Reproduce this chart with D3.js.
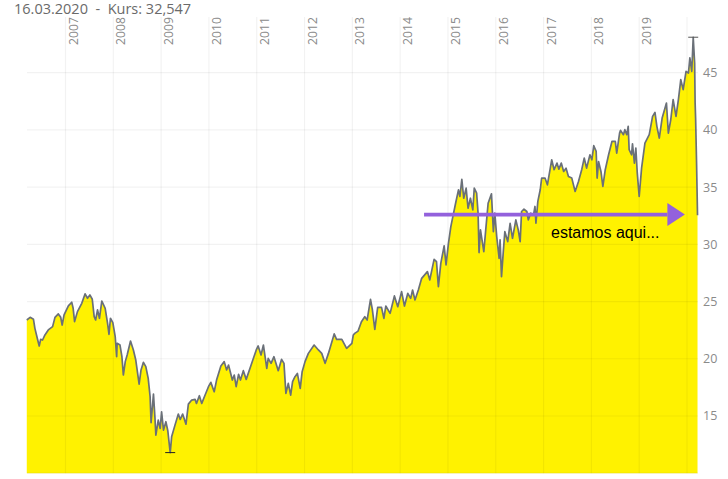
<!DOCTYPE html>
<html><head><meta charset="utf-8">
<script src="https://cdnjs.cloudflare.com/ajax/libs/d3/7.8.5/d3.min.js"></script>
<style>html,body{margin:0;padding:0;background:#fff;overflow:hidden}svg{display:block}</style>
</head><body><svg id="c" width="728" height="479"></svg>
<script>
const headerText = "16.03.2020  -  Kurs: 32,547";
const noteText = "estamos aqui...";
const yearTicks = [2007,2008,2009,2010,2011,2012,2013,2014,2015,2016,2017,2018,2019,2020];
const yearLabels = [2007,2008,2009,2010,2011,2012,2013,2014,2015,2016,2017,2018,2019];
const priceTicks = [15,20,25,30,35,40,45];
const currentPrice = 32.6;
const arrowFrom = 2014.5, arrowTo = 2019.59;
const dates = [2006.19,2006.26,2006.33,2006.36,2006.41,2006.45,2006.48,2006.52,2006.57,2006.64,2006.73,2006.78,2006.85,2006.90,2006.93,2006.97,2007.06,2007.13,2007.16,2007.19,2007.25,2007.34,2007.41,2007.46,2007.51,2007.56,2007.60,2007.63,2007.67,2007.71,2007.76,2007.83,2007.88,2007.91,2007.94,2007.99,2008.04,2008.07,2008.08,2008.14,2008.18,2008.21,2008.25,2008.29,2008.36,2008.42,2008.47,2008.54,2008.58,2008.63,2008.68,2008.73,2008.77,2008.79,2008.84,2008.87,2008.89,2008.94,2008.98,2009.01,2009.05,2009.10,2009.14,2009.19,2009.22,2009.29,2009.36,2009.40,2009.45,2009.52,2009.57,2009.64,2009.71,2009.74,2009.80,2009.85,2009.92,2009.99,2010.04,2010.11,2010.16,2010.25,2010.32,2010.37,2010.41,2010.49,2010.53,2010.57,2010.62,2010.66,2010.72,2010.78,2010.87,2010.99,2011.03,2011.09,2011.14,2011.21,2011.24,2011.30,2011.36,2011.45,2011.52,2011.57,2011.61,2011.66,2011.71,2011.75,2011.80,2011.85,2011.91,2011.95,2012.01,2012.08,2012.20,2012.29,2012.36,2012.43,2012.50,2012.62,2012.67,2012.78,2012.88,2012.99,2013.02,2013.05,2013.12,2013.19,2013.26,2013.31,2013.38,2013.42,2013.47,2013.53,2013.61,2013.66,2013.70,2013.79,2013.88,2013.95,2014.03,2014.09,2014.16,2014.22,2014.26,2014.31,2014.38,2014.45,2014.57,2014.62,2014.71,2014.76,2014.80,2014.85,2014.92,2014.96,2015.01,2015.06,2015.11,2015.16,2015.22,2015.25,2015.29,2015.33,2015.38,2015.42,2015.47,2015.52,2015.55,2015.60,2015.63,2015.65,2015.68,2015.75,2015.79,2015.84,2015.91,2015.95,2015.98,2016.02,2016.07,2016.09,2016.12,2016.16,2016.19,2016.25,2016.30,2016.35,2016.42,2016.47,2016.51,2016.54,2016.59,2016.65,2016.68,2016.73,2016.79,2016.82,2016.84,2016.88,2016.93,2016.96,2017.03,2017.08,2017.17,2017.22,2017.28,2017.32,2017.37,2017.42,2017.47,2017.52,2017.59,2017.66,2017.73,2017.80,2017.85,2017.90,2017.97,2018.01,2018.05,2018.10,2018.12,2018.15,2018.20,2018.24,2018.29,2018.36,2018.43,2018.50,2018.53,2018.59,2018.61,2018.67,2018.70,2018.74,2018.77,2018.79,2018.84,2018.86,2018.90,2018.93,2018.96,2019.00,2019.05,2019.12,2019.21,2019.28,2019.33,2019.37,2019.42,2019.48,2019.53,2019.57,2019.61,2019.66,2019.71,2019.77,2019.82,2019.87,2019.92,2019.98,2020.03,2020.06,2020.10,2020.13,2020.16,2020.17,2020.18,2020.20,2020.22];
const prices = [23.39,23.62,23.45,22.66,21.79,21.12,21.70,21.64,22.08,22.52,22.81,23.62,23.92,23.62,22.95,23.83,24.62,24.94,24.41,23.25,24.12,24.85,25.67,25.29,25.58,25.20,23.68,23.39,24.27,23.54,25.05,24.41,23.10,22.14,23.54,23.16,21.93,20.18,21.35,21.20,20.18,18.58,19.75,20.33,21.55,20.77,19.89,17.79,19.02,19.69,19.31,18.29,16.68,14.41,16.92,14.93,13.33,14.64,13.91,15.37,13.77,14.50,13.71,11.80,13.18,14.20,15.17,14.70,15.17,14.29,16.04,16.39,16.45,16.10,16.77,16.10,16.83,17.56,17.94,17.12,18.14,19.37,19.75,19.02,19.45,18.14,18.58,17.56,18.64,18.14,18.96,18.20,19.31,20.77,21.12,20.33,21.20,19.16,20.04,19.60,20.18,18.96,19.95,19.60,16.98,17.85,16.83,18.00,18.43,18.72,17.41,18.87,19.75,20.47,21.20,20.77,20.47,19.60,20.47,22.17,21.70,21.70,20.91,21.35,22.08,22.22,22.42,23.24,23.68,23.39,25.19,24.26,22.57,24.49,24.49,23.53,24.61,23.97,25.49,24.55,25.87,24.61,25.72,25.28,26.01,25.14,26.01,27.03,27.62,26.89,28.69,28.49,26.30,28.34,29.86,28.20,30.09,31.55,32.57,33.59,34.76,34.18,35.69,34.03,34.91,33.16,34.03,33.01,34.91,34.47,32.72,29.28,31.26,29.37,31.26,33.59,34.41,31.11,32.72,30.68,28.78,30.39,27.18,29.51,31.11,30.24,31.84,30.53,32.14,31.26,30.24,32.87,33.07,32.87,32.14,32.72,32.58,33.31,31.85,33.75,34.77,35.79,35.79,35.20,37.39,36.52,37.10,36.57,37.10,36.37,36.66,35.93,35.79,34.62,35.49,36.57,37.54,36.66,37.83,37.39,38.62,38.12,35.79,37.24,36.37,35.06,36.52,37.83,38.99,38.99,37.97,39.72,39.96,39.58,40.02,39.58,40.31,38.27,37.83,38.79,37.10,38.41,36.22,34.18,36.66,38.85,39.58,41.18,41.53,40.31,39.29,41.04,41.77,42.35,39.72,40.89,42.64,41.18,42.64,44.39,43.52,45.12,44.97,46.29,45.12,48.10,45.85,42.35,41.04,37.10,32.55];

const series = dates.map((d,i)=>({d, p:prices[i]}));
const svg = d3.select("#c");
const plotLeft = 27, plotRight = 698, plotTop = 17, plotBottom = 473.2;
const x = d3.scaleLinear().domain([2007,2020]).range([65.5,687]);
const y = d3.scaleLinear().domain([10,45]).range([plotBottom,72.7]);

// area
svg.append("path").datum(series)
  .attr("fill","#fff200")
  .attr("d", d3.area().x(s=>x(s.d)).y0(plotBottom).y1(s=>y(s.p)));

// grid over fill
const grid = svg.append("g").attr("stroke","rgba(0,0,0,0.05)").attr("stroke-width",1.2).attr("fill","none");
grid.selectAll(".v").data(yearTicks).join("line").attr("class","v")
  .attr("x1",d=>x(d)).attr("x2",d=>x(d)).attr("y1",plotTop).attr("y2",plotBottom);
grid.selectAll(".h").data(priceTicks.concat([10])).join("line").attr("class","h")
  .attr("x1",plotLeft).attr("x2",plotRight).attr("y1",d=>y(d)).attr("y2",d=>y(d));

// price line
svg.append("path").datum(series)
  .attr("fill","none").attr("stroke","#6a7078").attr("stroke-width",1.7).attr("stroke-linejoin","round")
  .attr("d", d3.line().x(s=>x(s.d)).y(s=>y(s.p)));

// high / low markers
const hi = series[d3.greatestIndex(series,s=>s.p)], lo = series[d3.leastIndex(series,s=>s.p)];
[[hi,"#555"],[lo,"#222"]].forEach(([m,c])=>{
  svg.append("line").attr("x1",x(m.d)-5).attr("x2",x(m.d)+5).attr("y1",y(m.p)).attr("y2",y(m.p))
    .attr("stroke",c).attr("stroke-width",1);
});

// y labels
svg.selectAll(".yl").data(priceTicks).join("text").attr("class","yl")
  .attr("x",703).attr("y",d=>y(d)+4.5).attr("fill","#8a8a8a")
  .attr("font-family","'Open Sans'").attr("font-size",12.5).text(d=>d);

// x labels
svg.selectAll(".xl").data(yearLabels).join("text").attr("class","xl")
  .attr("transform",d=>`translate(${x(d)+12},45) rotate(-90)`).attr("fill","#8a8a8a")
  .attr("font-family","'Open Sans'").attr("font-size",12.2).text(d=>d);

// header
svg.append("text").attr("x",14).attr("y",14).attr("fill","#6a6a6a")
  .style("white-space","pre").attr("font-family","'Open Sans'").attr("font-size",14.5).text(headerText);

// arrow
const ay = y(currentPrice), ax0 = x(arrowFrom), ax1 = x(arrowTo);
svg.append("line").attr("x1",ax0).attr("x2",ax1).attr("y1",ay).attr("y2",ay)
  .attr("stroke","#9361dc").attr("stroke-width",3.6);
svg.append("path").attr("fill","#9361dc")
  .attr("d",d3.line()([[ax1,ay-11.5],[ax1+17.5,ay],[ax1,ay+11.5]])+"Z");

// note
svg.append("text").attr("x",551).attr("y",238).attr("fill","#000")
  .attr("font-family","'Liberation Sans'").attr("font-size",16).text(noteText);
</script></body></html>
